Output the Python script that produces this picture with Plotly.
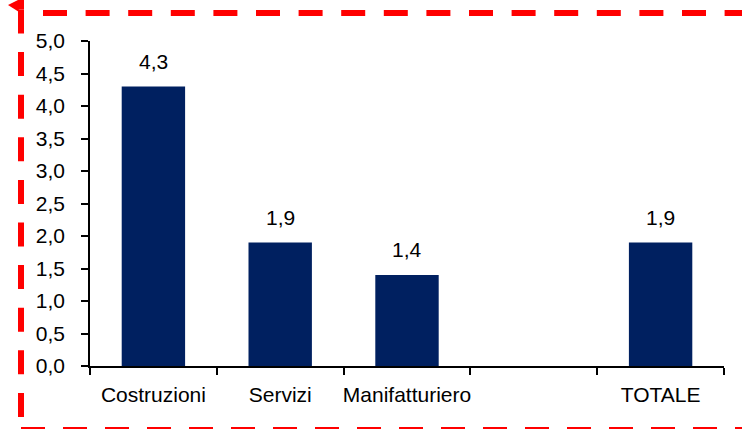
import plotly.graph_objects as go

# Sector values (one empty slot separates the sectors from the total)
categories = ["Costruzioni", "Servizi", "Manifatturiero", " ", "TOTALE"]
values = [4.3, 1.9, 1.4, None, 1.9]
y_ticks = [0.0, 0.5, 1.0, 1.5, 2.0, 2.5, 3.0, 3.5, 4.0, 4.5, 5.0]

W, H = 742, 429
L, R, T, B = 90, 18, 41, 63
PW, PH = W - L - R, H - T - B

NAVY = "#002060"
RED = "#ff0000"
FONT = dict(family="Liberation Sans, Arial, sans-serif", size=21, color="#000000")


def px(x):
    return (x - L) / PW


def py(y):
    return (H - B - y) / PH


fig = go.Figure()
fig.add_trace(go.Bar(
    x=categories, y=values, marker=dict(color=NAVY, line=dict(width=0)),
    hoverinfo="skip",
))

# value labels above the bars
for c, v in zip(categories, values):
    if v is None:
        continue
    fig.add_annotation(
        x=c, y=v, text=f"{v:.1f}".replace(".", ","), showarrow=False,
        yanchor="bottom", yshift=12, font=FONT,
    )

# red dashed frame
dash = "24px,18.6px"
shapes = [
    dict(type="line", xref="paper", yref="paper", x0=px(21), x1=px(21), y0=py(0), y1=py(9.5),
         line=dict(color=RED, width=6)),
    dict(type="line", xref="paper", yref="paper", x0=px(21), x1=px(21), y0=py(9.5), y1=py(440),
         line=dict(color=RED, width=6, dash=dash)),
    dict(type="line", xref="paper", yref="paper", x0=px(43), x1=px(760), y0=py(13), y1=py(13),
         line=dict(color=RED, width=6, dash=dash)),
    dict(type="line", xref="paper", yref="paper", x0=px(21), x1=px(760), y0=py(430), y1=py(430),
         line=dict(color=RED, width=6, dash="24px,18px")),
    dict(type="path", xref="paper", yref="paper",
         path=f"M {px(8)},{py(5)} L {px(18)},{py(0)} L {px(19)},{py(12)} Z",
         fillcolor=RED, line=dict(width=0)),
]

fig.update_layout(
    width=W, height=H,
    margin=dict(l=L, r=R, t=T, b=B, autoexpand=False),
    paper_bgcolor="white", plot_bgcolor="white",
    separators=",.",
    bargap=0.5,
    showlegend=False,
    font=FONT,
    shapes=shapes,
    xaxis=dict(
        type="category", categoryorder="array", categoryarray=categories,
        range=[-0.5, len(categories) - 0.5],
        tickson="boundaries", ticks="outside", ticklen=7, tickwidth=1.5, tickcolor="black",
        showline=True, linecolor="black", linewidth=1.5,
        showgrid=False, zeroline=False, ticklabelstandoff=9,
        tickangle=0, automargin=False,
        tickfont=FONT,
    ),
    yaxis=dict(
        range=[0, 5], tickvals=y_ticks, tickformat=".1f",
        ticks="outside", ticklen=7, tickwidth=1.5, tickcolor="black",
        showline=True, linecolor="black", linewidth=1.5,
        showgrid=False, zeroline=False, ticklabelstandoff=12,
        automargin=False,
        tickfont=FONT,
    ),
)

fig.write_html("out.html")
